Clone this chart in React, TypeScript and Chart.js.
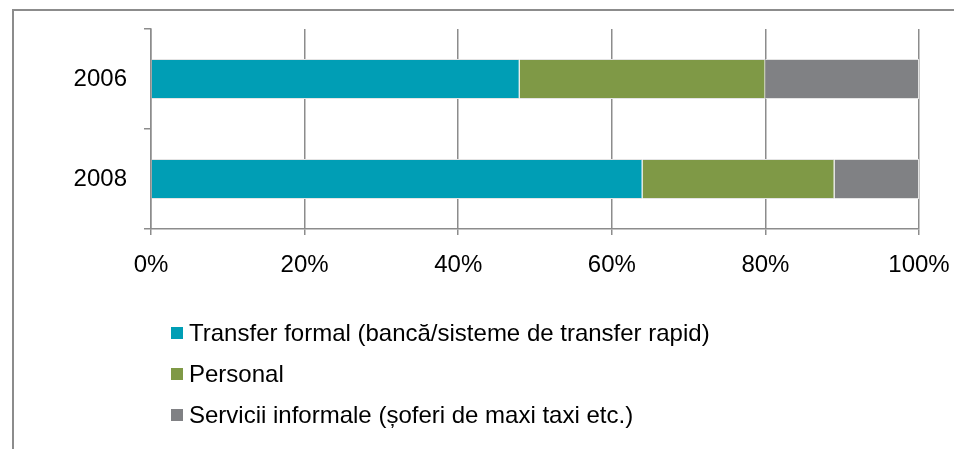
import React, { useEffect, useRef } from "react";
import { Chart, registerables } from "chart.js";

Chart.register(...registerables);

const categories = ["2006", "2008"];
const seriesNames = [
  "Transfer formal (bancă/sisteme de transfer rapid)",
  "Personal",
  "Servicii informale (șoferi de maxi taxi etc.)",
];
const formalValues = [48, 64];
const personalValues = [32, 25];
const informalValues = [20, 11];
const xTicks = [0, 20, 40, 60, 80, 100];
const seriesColors = ["#009EB5", "#7F9946", "#808184"];

const FONT = '"Liberation Sans", Arial, sans-serif';
const GRID = "#8c8c8c";

const framePlugin = {
  id: "frame",
  beforeDraw(chart: any) {
    const ctx = chart.ctx;
    ctx.save();
    ctx.fillStyle = "#ffffff";
    ctx.fillRect(0, 0, chart.width, chart.height);
    ctx.strokeStyle = GRID;
    ctx.lineWidth = 2;
    ctx.beginPath();
    ctx.moveTo(13, chart.height);
    ctx.lineTo(13, 10);
    ctx.lineTo(chart.width, 10);
    ctx.stroke();
    ctx.restore();
  },
};

const legendPlugin = {
  id: "columnLegend",
  afterDraw(chart: any) {
    const ctx = chart.ctx;
    ctx.save();
    ctx.font = `24px ${FONT}`;
    ctx.textBaseline = "middle";
    ctx.textAlign = "left";
    chart.data.datasets.forEach((ds: any, i: number) => {
      const cy = 333 + i * 41;
      ctx.fillStyle = ds.backgroundColor;
      ctx.fillRect(171, cy - 6, 12, 12);
      ctx.fillStyle = "#000000";
      ctx.fillText(ds.label, 189, cy + 1);
    });
    ctx.restore();
  },
};

export default function App() {
  const ref = useRef<HTMLCanvasElement>(null);
  useEffect(() => {
    if (!ref.current) return;
    const chart = new Chart(ref.current, {
      type: "bar",
      data: {
        labels: categories,
        datasets: [
          { label: seriesNames[0], data: formalValues, backgroundColor: seriesColors[0] },
          { label: seriesNames[1], data: personalValues, backgroundColor: seriesColors[1] },
          { label: seriesNames[2], data: informalValues, backgroundColor: seriesColors[2] },
        ].map((d) => ({
          ...d,
          borderColor: "#e4e4e4",
          borderWidth: 1,
          barPercentage: 0.4,
          categoryPercentage: 1,
        })),
      },
      options: {
        indexAxis: "y",
        animation: false,
        responsive: false,
        devicePixelRatio: 1,
        layout: { padding: { left: 0, top: 29, right: 35, bottom: 160 } },
        plugins: {
          legend: { display: false },
          tooltip: { enabled: false },
        },
        scales: {
          x: {
            stacked: true,
            min: 0,
            max: 100,
            afterBuildTicks: (scale: any) => {
              scale.ticks = xTicks.map((v) => ({ value: v }));
            },
            afterFit: (scale: any) => {
              scale.height = 60;
              scale.paddingLeft = 0;
              scale.paddingRight = 0;
            },
            ticks: {
              callback: (v: any) => v + "%",
              font: { family: FONT, size: 24 },
              color: "#000000",
              padding: 16,
              maxRotation: 0,
              autoSkip: false,
            },
            grid: {
              color: GRID,
              lineWidth: 1.5,
              tickLength: 6,
              drawOnChartArea: true,
            },
            border: { color: GRID, width: 1.5 },
          },
          y: {
            stacked: true,
            afterFit: (scale: any) => {
              scale.width = 151;
              scale.paddingTop = 0;
              scale.paddingBottom = 0;
            },
            ticks: {
              font: { family: FONT, size: 24 },
              color: "#000000",
              padding: 17,
            },
            grid: {
              color: GRID,
              lineWidth: 1.5,
              tickLength: 7,
              drawOnChartArea: false,
              offset: true,
            },
            border: { color: GRID, width: 1.5 },
          },
        },
      },
      plugins: [framePlugin, legendPlugin],
    });
    return () => chart.destroy();
  }, []);
  return (
    <div style={{ position: "fixed", left: 0, top: 0, width: 954, height: 449, background: "#fff" }}>
      <canvas ref={ref} width={954} height={449} style={{ display: "block" }} />
    </div>
  );
}
